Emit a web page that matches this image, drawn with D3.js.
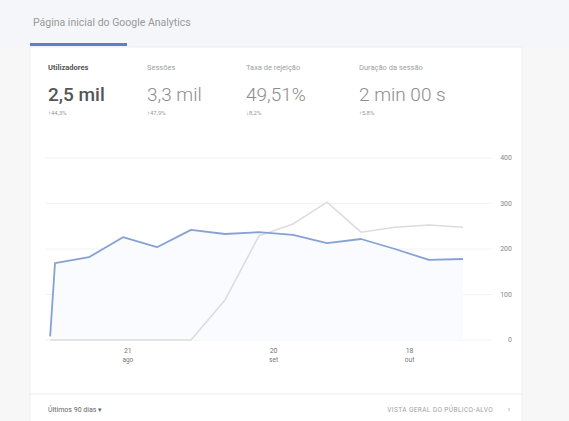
<!DOCTYPE html>
<html lang="pt">
<head>
<meta charset="utf-8">
<script src="https://cdn.jsdelivr.net/npm/d3@7"></script>
<style>
  html, body { margin: 0; padding: 0; background: #f7f7f7; }
  svg { display: block; font-family: Roboto, "Noto Sans", sans-serif; }
</style>
</head>
<body>
<svg id="chart" width="569" height="421"></svg>
<script>
// Weekly data points (start of each week) and the two series
const weekDates = ["2016-08-05", "2016-08-06", "2016-08-13", "2016-08-20", "2016-08-27", "2016-09-03",
  "2016-09-10", "2016-09-17", "2016-09-24", "2016-10-01", "2016-10-08", "2016-10-15",
  "2016-10-22", "2016-10-29"];
const usersCurrent = [8, 169, 182, 226, 204, 242, 233, 237, 231, 213, 222, 200, 176, 178];
const usersPrevious = [0, 0, 0, 0, 0, 0, 88, 229, 255, 303, 237, 248, 253, 248];

const yTicks = [0, 100, 200, 300, 400];
const xTickDates = ["2016-08-21", "2016-09-20", "2016-10-18"];
const xTickDays = ["21", "20", "18"];
const xTickMonths = ["ago", "set", "out"];

const metricNames = ["Utilizadores", "Sessões", "Taxa de rejeição", "Duração da sessão"];
const metricValues = ["2,5 mil", "3,3 mil", "49,51%", "2 min 00 s"];
const metricChanges = ["↑44,3%", "↑47,9%", "↓8,2%", "↑5,8%"];

const parse = d3.timeParse("%Y-%m-%d");
const svg = d3.select("#chart");

// page header band and card
svg.append("rect").attr("x", 0).attr("y", 0).attr("width", 569).attr("height", 47).attr("fill", "#f4f6f9");
svg.append("rect").attr("x", 30).attr("y", 47).attr("width", 492).attr("height", 380)
  .attr("fill", "#ffffff").attr("stroke", "#eceef1");

svg.append("text").attr("x", 33).attr("y", 26).attr("font-size", 10.5).attr("fill", "#999")
  .text("Página inicial do Google Analytics");
svg.append("rect").attr("x", 30).attr("y", 43).attr("width", 97).attr("height", 3).attr("fill", "#5e7fcf");

// metric summary row
const metricX = [48, 147, 246, 359];
metricNames.forEach((name, i) => {
  const g = svg.append("g").attr("transform", `translate(${metricX[i]},0)`);
  g.append("text").attr("y", 70).attr("font-size", 7.5)
    .attr("font-weight", i === 0 ? 700 : 400)
    .attr("fill", i === 0 ? "#555" : "#a0a0a0").text(name);
  g.append("text").attr("y", 101).attr("font-size", 19)
    .attr("font-weight", i === 0 ? 500 : 300)
    .attr("fill", i === 0 ? "#555" : "#8c8c8c").text(metricValues[i]);
  g.append("text").attr("y", 115).attr("font-size", 6)
    .attr("fill", "#999").text(metricChanges[i]);
});

// chart scales
const x = d3.scaleTime()
  .domain([parse("2016-08-06"), parse("2016-10-29")])
  .range([55, 463]);
const y = d3.scaleLinear().domain([0, 400]).range([340, 158]);

// grid lines and right-hand labels
const grid = svg.append("g");
yTicks.forEach(t => {
  grid.append("line").attr("x1", 45).attr("x2", 492)
    .attr("y1", y(t)).attr("y2", y(t))
    .attr("stroke", "#f2f2f2").attr("stroke-width", 1);
  grid.append("text").attr("x", 512).attr("y", y(t)).attr("dy", "0.35em")
    .attr("text-anchor", "end").attr("font-size", 7).attr("fill", "#888").text(t);
});

// date labels
xTickDates.forEach((d, i) => {
  const px = x(parse(d));
  svg.append("text").attr("x", px).attr("y", 353).attr("text-anchor", "middle")
    .attr("font-size", 7).attr("fill", "#777").text(xTickDays[i]);
  svg.append("text").attr("x", px).attr("y", 362).attr("text-anchor", "middle")
    .attr("font-size", 6.5).attr("fill", "#777").text(xTickMonths[i]);
});

const cur = weekDates.map((d, i) => ({ date: parse(d), v: usersCurrent[i] }));
const prev = weekDates.map((d, i) => ({ date: parse(d), v: usersPrevious[i] }));

// faint fill under the current period
svg.append("path").datum(cur)
  .attr("d", d3.area().x(d => x(d.date)).y0(y(0)).y1(d => y(d.v)))
  .attr("fill", "#f9fbfe");

const line = d3.line().x(d => x(d.date)).y(d => y(d.v));
svg.append("path").datum(prev).attr("d", line)
  .attr("fill", "none").attr("stroke", "#dcdcdc").attr("stroke-width", 1.5);
svg.append("path").datum(cur).attr("d", line)
  .attr("fill", "none").attr("stroke", "#86a2d3").attr("stroke-width", 1.8)
  .attr("stroke-linejoin", "round");

// footer
svg.append("line").attr("x1", 30).attr("x2", 522).attr("y1", 394).attr("y2", 394)
  .attr("stroke", "#ececec");
svg.append("text").attr("x", 48).attr("y", 412).attr("font-size", 7).attr("fill", "#666")
  .text("Últimos 90 dias ▾");
svg.append("text").attr("x", 493).attr("y", 412).attr("text-anchor", "end")
  .attr("font-size", 6.5).attr("letter-spacing", 0.4).attr("fill", "#a0a0a0")
  .text("VISTA GERAL DO PÚBLICO-ALVO");
svg.append("text").attr("x", 509).attr("y", 412).attr("text-anchor", "middle")
  .attr("font-size", 8).attr("fill", "#a0a0a0").text("›");
</script>
</body>
</html>
